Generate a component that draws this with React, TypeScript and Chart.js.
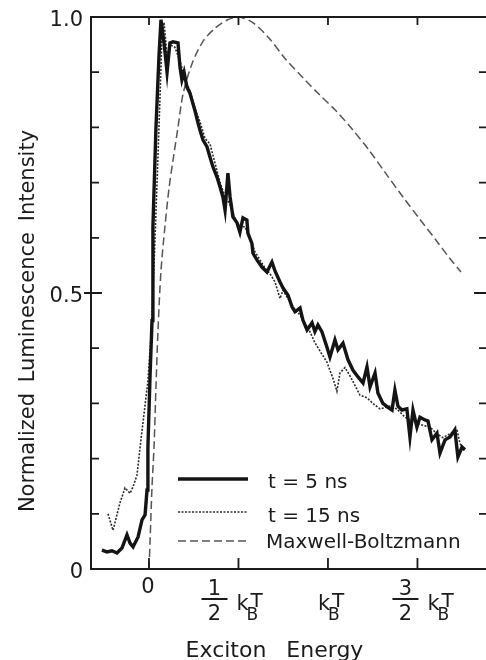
import React, { useEffect, useRef } from "react";
import { Chart, registerables } from "chart.js";

Chart.register(...registerables);

// ---------- data (energy in units of kBT, intensity normalized) ----------
const energy5ns = [
  -0.263, -0.235, -0.207, -0.179, -0.151, -0.123, -0.106, -0.089, -0.061, -0.039,
  -0.022, -0.011, -0.006, 0.006, 0.017, 0.022, 0.039, 0.056, 0.067, 0.084,
  0.101, 0.117, 0.134, 0.162, 0.173, 0.184, 0.196, 0.212, 0.229, 0.257,
  0.274, 0.285, 0.302, 0.324, 0.341, 0.358, 0.38, 0.397, 0.413, 0.425,
  0.441, 0.453, 0.469, 0.492, 0.508, 0.525, 0.547, 0.553, 0.575, 0.581,
  0.603, 0.631, 0.659, 0.687, 0.704, 0.732, 0.749, 0.777, 0.799, 0.816,
  0.844, 0.86, 0.883, 0.911, 0.927, 0.944, 0.966, 0.994, 1.011, 1.039,
  1.056, 1.084, 1.112, 1.14, 1.168, 1.196, 1.218, 1.235, 1.263, 1.279,
  1.307, 1.335, 1.358, 1.374, 1.391, 1.413, 1.441, 1.458, 1.475, 1.497,
  1.514, 1.542, 1.559, 1.581, 1.609, 1.626, 1.654, 1.682, 1.709, 1.726,
  1.749, 1.765,
];
const intensity5ns = [
  0.034, 0.031, 0.033, 0.029, 0.038, 0.062, 0.047, 0.04, 0.058, 0.089,
  0.098, 0.143, 0.22, 0.35, 0.45, 0.62, 0.8, 0.93, 0.995, 0.953,
  0.9, 0.953, 0.955, 0.953, 0.91, 0.886, 0.9, 0.873, 0.862, 0.83,
  0.808, 0.795, 0.777, 0.765, 0.746, 0.728, 0.71, 0.692, 0.674, 0.65,
  0.717, 0.674, 0.638, 0.627, 0.61, 0.636, 0.632, 0.608, 0.59, 0.572,
  0.56, 0.547, 0.538, 0.556, 0.54, 0.52, 0.509, 0.496, 0.475, 0.466,
  0.473, 0.451, 0.433, 0.446, 0.43, 0.442, 0.43, 0.402, 0.384, 0.415,
  0.397, 0.409, 0.379, 0.36, 0.348, 0.337, 0.366, 0.33, 0.355, 0.319,
  0.3, 0.293, 0.288, 0.324, 0.295, 0.288, 0.29, 0.239, 0.288, 0.257,
  0.275, 0.27, 0.268, 0.234, 0.246, 0.21, 0.234, 0.239, 0.252, 0.203,
  0.221, 0.216,
];

const energy15ns = [
  -0.229, -0.201, -0.162, -0.134, -0.106, -0.089, -0.067, -0.05, -0.034, -0.017,
  -0.006, 0.011, 0.028, 0.045, 0.061, 0.073, 0.084, 0.101, 0.117, 0.145,
  0.173, 0.201, 0.229, 0.257, 0.285, 0.313, 0.341, 0.369, 0.397, 0.425,
  0.453, 0.48, 0.508, 0.536, 0.564, 0.592, 0.62, 0.648, 0.676, 0.704,
  0.732, 0.749, 0.777, 0.816, 0.844, 0.872, 0.899, 0.927, 0.955, 0.994,
  1.028, 1.05, 1.067, 1.095, 1.123, 1.179, 1.218, 1.251, 1.291, 1.346,
  1.385, 1.43, 1.458, 1.514, 1.57, 1.609, 1.642, 1.682, 1.721, 1.737,
  1.76,
];
const intensity15ns = [
  0.1, 0.07, 0.12, 0.147, 0.137, 0.149, 0.17, 0.22, 0.264, 0.31,
  0.34, 0.42, 0.55, 0.7, 0.85, 0.97, 0.99, 0.93, 0.95, 0.945,
  0.92, 0.89, 0.865, 0.835, 0.81, 0.78, 0.77, 0.735, 0.7, 0.675,
  0.66, 0.635, 0.62, 0.62, 0.6, 0.575, 0.56, 0.545, 0.535, 0.52,
  0.49, 0.505, 0.49, 0.47, 0.46, 0.445, 0.43, 0.41, 0.395, 0.375,
  0.345, 0.322, 0.355, 0.365, 0.35, 0.315, 0.31, 0.3, 0.29, 0.295,
  0.29, 0.275, 0.27, 0.262, 0.257, 0.245, 0.238, 0.245, 0.252, 0.228,
  0.215,
];

const energyMB = [
  0, 0.006, 0.017, 0.028, 0.039, 0.05, 0.067, 0.089, 0.112, 0.134,
  0.162, 0.19, 0.24, 0.3, 0.37, 0.44, 0.5, 0.58, 0.67, 0.76,
  0.86, 0.95, 1.045, 1.14, 1.229, 1.32, 1.419, 1.51, 1.603, 1.68,
  1.743,
];
const intensityMB = [
  0, 0.05, 0.15, 0.22, 0.33, 0.43, 0.54, 0.62, 0.69, 0.74,
  0.8, 0.86, 0.915, 0.955, 0.98, 0.995, 1.0, 0.99, 0.962, 0.925,
  0.89, 0.86, 0.83, 0.795, 0.759, 0.718, 0.674, 0.635, 0.596, 0.563,
  0.538,
];

const seriesLabels = ["t = 5 ns", "t = 15 ns", "Maxwell-Boltzmann"];
const yMinorTicks = [0.1, 0.2, 0.3, 0.4, 0.5, 0.6, 0.7, 0.8, 0.9];
const yLabelValues = [0, 0.5, 1];
const yLabelTexts = ["0", "0.5", "1.0"];
const xTickValues = [0, 0.5, 1, 1.5];
const xTickNumerators = ["", "1", "", "3"];
const xTickDenominators = ["", "2", "", "2"];
const xTickPlain = ["0", "", "", ""];
const xTitle = "Exciton Energy";
const yTitle = "Normalized Luminescence Intensity";

const X_MIN = -0.324;
const X_MAX = 1.883;

const INK = "#1b1b1b";
const FONT = "'DejaVu Sans', 'Liberation Sans', sans-serif";

const toPoints = (xs: number[], ys: number[]) => xs.map((x, i) => ({ x, y: ys[i] }));

const decorPlugin = {
  id: "decor",
  afterDatasetsDraw(chart: any) {
    const { ctx, chartArea: a, scales } = chart;
    const xs = scales.x;
    const ys = scales.y;
    ctx.save();
    ctx.setLineDash([]);
    ctx.strokeStyle = INK;
    ctx.fillStyle = INK;

    // frame (left, top, bottom)
    ctx.lineWidth = 2;
    ctx.beginPath();
    ctx.moveTo(a.right + 2, a.top);
    ctx.lineTo(a.left, a.top);
    ctx.lineTo(a.left, a.bottom);
    ctx.lineTo(a.right + 2, a.bottom);
    ctx.stroke();

    // y ticks (left and right, inward)
    ctx.lineWidth = 1.8;
    yMinorTicks.forEach((v) => {
      const y = ys.getPixelForValue(v);
      const major = Math.abs(v - 0.5) < 1e-6;
      ctx.beginPath();
      if (major) {
        ctx.moveTo(a.left - 7, y);
        ctx.lineTo(a.left + 11, y);
        ctx.moveTo(a.right - 12, y);
        ctx.lineTo(a.right, y);
      } else {
        ctx.moveTo(a.left, y);
        ctx.lineTo(a.left + 8, y);
        ctx.moveTo(a.right - 7, y);
        ctx.lineTo(a.right, y);
      }
      ctx.stroke();
    });

    // x ticks (bottom up, top down)
    xTickValues.forEach((v) => {
      const x = xs.getPixelForValue(v);
      ctx.beginPath();
      ctx.moveTo(x, a.bottom);
      ctx.lineTo(x, a.bottom - 11);
      ctx.moveTo(x, a.top);
      ctx.lineTo(x, a.top + 8);
      ctx.stroke();
    });

    // y tick labels
    ctx.font = `21px ${FONT}`;
    ctx.textAlign = "right";
    ctx.textBaseline = "alphabetic";
    yLabelValues.forEach((v, i) => {
      const y = ys.getPixelForValue(v);
      ctx.fillText(yLabelTexts[i], a.left - 8, y + 9);
    });

    // x tick labels
    const shifts = [0, -24, -10, -12];
    const drawKBT = (x0: number) => {
      ctx.textAlign = "left";
      ctx.font = `21px ${FONT}`;
      ctx.fillText("k", x0, a.bottom + 41);
      ctx.font = `17px ${FONT}`;
      ctx.fillText("B", x0 + 10, a.bottom + 51);
      ctx.font = `20px ${FONT}`;
      ctx.fillText("T", x0 + 14, a.bottom + 38);
    };
    xTickValues.forEach((v, i) => {
      const t = xs.getPixelForValue(v);
      if (xTickPlain[i]) {
        ctx.font = `21px ${FONT}`;
        ctx.textAlign = "center";
        ctx.fillText(xTickPlain[i], t - 1, a.bottom + 24);
        return;
      }
      if (xTickNumerators[i]) {
        const fc = t + shifts[i];
        ctx.font = `21px ${FONT}`;
        ctx.textAlign = "center";
        ctx.fillText(xTickNumerators[i], fc, a.bottom + 26);
        ctx.fillText(xTickDenominators[i], fc, a.bottom + 51);
        ctx.lineWidth = 2;
        ctx.beginPath();
        ctx.moveTo(fc - 13, a.bottom + 30);
        ctx.lineTo(fc + 13, a.bottom + 30);
        ctx.stroke();
        drawKBT(fc + 22);
      } else {
        drawKBT(t + shifts[i]);
      }
    });

    // axis titles
    ctx.font = `22px ${FONT}`;
    ctx.textAlign = "center";
    (ctx as any).wordSpacing = "13px";
    ctx.fillText(xTitle, (a.left + a.right) / 2 - 14, a.bottom + 88);
    (ctx as any).wordSpacing = "4px";
    ctx.save();
    ctx.translate(34, (a.top + a.bottom) / 2 + 28);
    ctx.rotate(-Math.PI / 2);
    ctx.font = `21px ${FONT}`;
    ctx.fillText(yTitle, 0, 0);
    ctx.restore();
    (ctx as any).wordSpacing = "0px";

    // legend
    const ds = chart.data.datasets;
    const rows = [479, 512, 541];
    const textBase = [488, 522, 548];
    const textX = [268, 268, 266];
    rows.forEach((y, i) => {
      const d = ds[i];
      ctx.strokeStyle = d.borderColor;
      ctx.lineWidth = d.borderWidth;
      ctx.setLineDash(d.borderDash || []);
      ctx.beginPath();
      ctx.moveTo(a.left + 87, y);
      ctx.lineTo(a.left + 157, y);
      ctx.stroke();
      ctx.setLineDash([]);
      ctx.font = `20px ${FONT}`;
      ctx.textAlign = "left";
      ctx.fillStyle = INK;
      ctx.fillText(seriesLabels[i], textX[i], textBase[i]);
    });

    ctx.restore();
  },
};

export default function App() {
  const ref = useRef<HTMLCanvasElement | null>(null);

  useEffect(() => {
    if (!ref.current) return;
    const chart = new Chart(ref.current, {
      type: "line",
      data: {
        datasets: [
          {
            label: seriesLabels[0],
            data: toPoints(energy5ns, intensity5ns),
            borderColor: "#141414",
            borderWidth: 3.4,
            pointRadius: 0,
            tension: 0,
            borderJoinStyle: "miter",
          },
          {
            label: seriesLabels[1],
            data: toPoints(energy15ns, intensity15ns),
            borderColor: "#2a2a2a",
            borderWidth: 1.6,
            borderDash: [2, 1.5],
            pointRadius: 0,
            tension: 0,
          },
          {
            label: seriesLabels[2],
            data: toPoints(energyMB, intensityMB),
            borderColor: "#555555",
            borderWidth: 1.5,
            borderDash: [8, 4],
            pointRadius: 0,
            tension: 0.3,
          },
        ],
      },
      options: {
        animation: false,
        responsive: false,
        maintainAspectRatio: false,
        devicePixelRatio: 1,
        layout: { padding: { left: 91, right: 0, top: 17, bottom: 91 } },
        scales: {
          x: { type: "linear", min: X_MIN, max: X_MAX, display: false },
          y: { type: "linear", min: 0, max: 1, display: false },
        },
        plugins: {
          legend: { display: false },
          tooltip: { enabled: false },
        },
        elements: { line: { fill: false } },
      },
      plugins: [decorPlugin],
    });
    return () => chart.destroy();
  }, []);

  return (
    <div style={{ position: "absolute", left: 0, top: 0, width: 486, height: 660, background: "#fff" }}>
      <canvas ref={ref} width={486} height={660} style={{ display: "block" }} />
    </div>
  );
}
